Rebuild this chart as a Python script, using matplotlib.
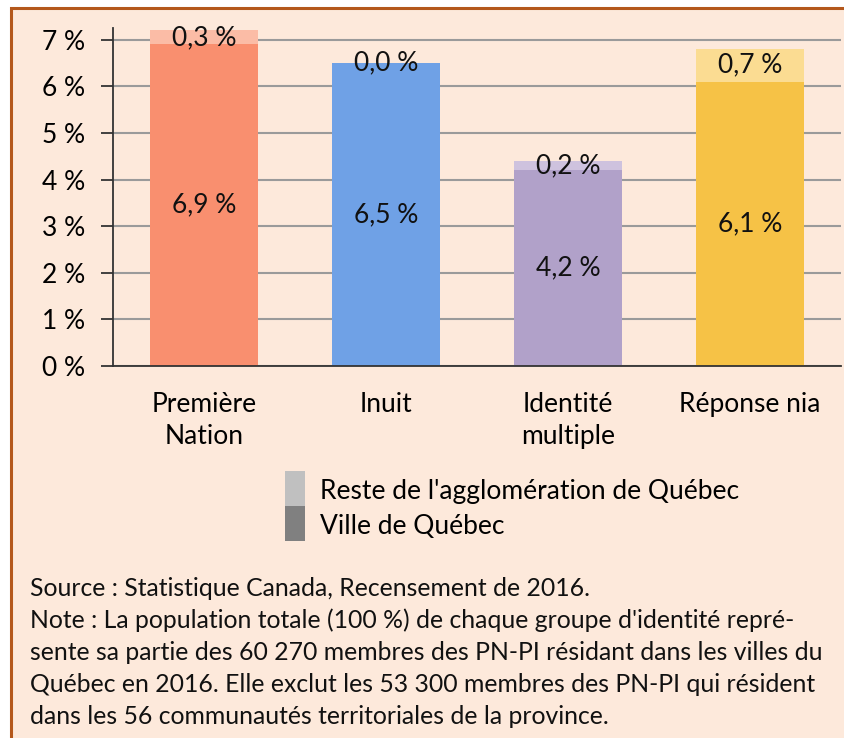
import matplotlib.pyplot as plt
from matplotlib.patches import Rectangle

plt.rcParams['font.family'] = ['Lato', 'DejaVu Sans']

categories = ['Première\nNation', 'Inuit', 'Identité\nmultiple', 'Réponse nia']
ville = [6.9, 6.5, 4.2, 6.1]
reste = [0.3, 0.0, 0.2, 0.7]
yticks = [0, 1, 2, 3, 4, 5, 6, 7]

col_ville = ['#f98f6f', '#6fa1e6', '#b1a1c9', '#f6c246']
col_reste = ['#fbbca6', '#a9c6f0', '#cec2de', '#fbdc92']

W, H = 844, 738
fig = plt.figure(figsize=(W / 100, H / 100), dpi=100)
fig.patch.set_facecolor('white')

def fx(px):
    return px / W

def fy(py):
    return 1 - py / H

# cadre beige avec bordure
fig.add_artist(Rectangle((fx(11), -0.1), 1.2, fy(8) + 0.1, transform=fig.transFigure,
                         facecolor='#fde9db', edgecolor='#b4581c', lw=2.2, zorder=0))

# titre coupé en haut
fig.text(fx(60), fy(-4), "Membres des PN-PI par identité, agglomération de Québec (%, 2016)",
         fontsize=17, fontweight='bold', va='baseline', ha='left', color='black')

ax = fig.add_axes([fx(113), fy(366), fx(841) - fx(113), fy(28) - fy(366)])
ax.set_facecolor('none')

fs = 19
x = range(len(categories))
ax.bar(x, ville, width=0.59, color=col_ville, zorder=2)
ax.bar(x, reste, width=0.59, bottom=ville, color=col_reste, zorder=2)

for i in x:
    ax.text(i, ville[i] / 2, f"{ville[i]:.1f} %".replace('.', ','), ha='center', va='center',
            fontsize=fs, color='#111111', zorder=3)
    ax.text(i, ville[i] + reste[i] / 2, f"{reste[i]:.1f} %".replace('.', ','), ha='center', va='center',
            fontsize=fs, color='#111111', zorder=3)

ax.set_xlim(-0.5, 3.5)
ax.set_ylim(0, 7.25)
ax.set_yticks(yticks)
ax.set_yticklabels([f"{t} %" for t in yticks], fontsize=fs)
ax.yaxis.grid(True, color='#9a9a9a', lw=1.5, zorder=1)
ax.set_axisbelow(True)
ax.tick_params(axis='y', length=9, width=1.3, color='#333333', pad=11)
ax.set_xticks(list(x))
ax.set_xticklabels(categories, fontsize=fs, linespacing=1.35)
ax.tick_params(axis='x', length=0, pad=19)
for s in ['top', 'right']:
    ax.spines[s].set_visible(False)
ax.spines['left'].set_color('#333333')
ax.spines['bottom'].set_color('#333333')
ax.spines['left'].set_linewidth(1.3)
ax.spines['bottom'].set_linewidth(1.3)

# légende
fig.add_artist(Rectangle((fx(285), fy(506)), fx(20), fy(471) - fy(506), transform=fig.transFigure,
                         facecolor='#c0c0c0', edgecolor='none'))
fig.add_artist(Rectangle((fx(285), fy(541)), fx(20), fy(506) - fy(541), transform=fig.transFigure,
                         facecolor='#808080', edgecolor='none'))
fig.text(fx(320), fy(492), "Reste de l'agglomération de Québec", fontsize=fs, va='center', ha='left')
fig.text(fx(320), fy(527), "Ville de Québec", fontsize=fs, va='center', ha='left')

notes = [
    "Source : Statistique Canada, Recensement de 2016.",
    "Note : La population totale (100 %) de chaque groupe d'identité repré-",
    "sente sa partie des 60 270 membres des PN-PI résidant dans les villes du",
    "Québec en 2016. Elle exclut les 53 300 membres des PN-PI qui résident",
    "dans les 56 communautés territoriales de la province.",
]
for k, line in enumerate(notes):
    fig.text(fx(30), fy(588 + 32 * k), line, fontsize=17.8, va='center', ha='left', color='#111111')

fig.savefig('out.png', dpi=100)
